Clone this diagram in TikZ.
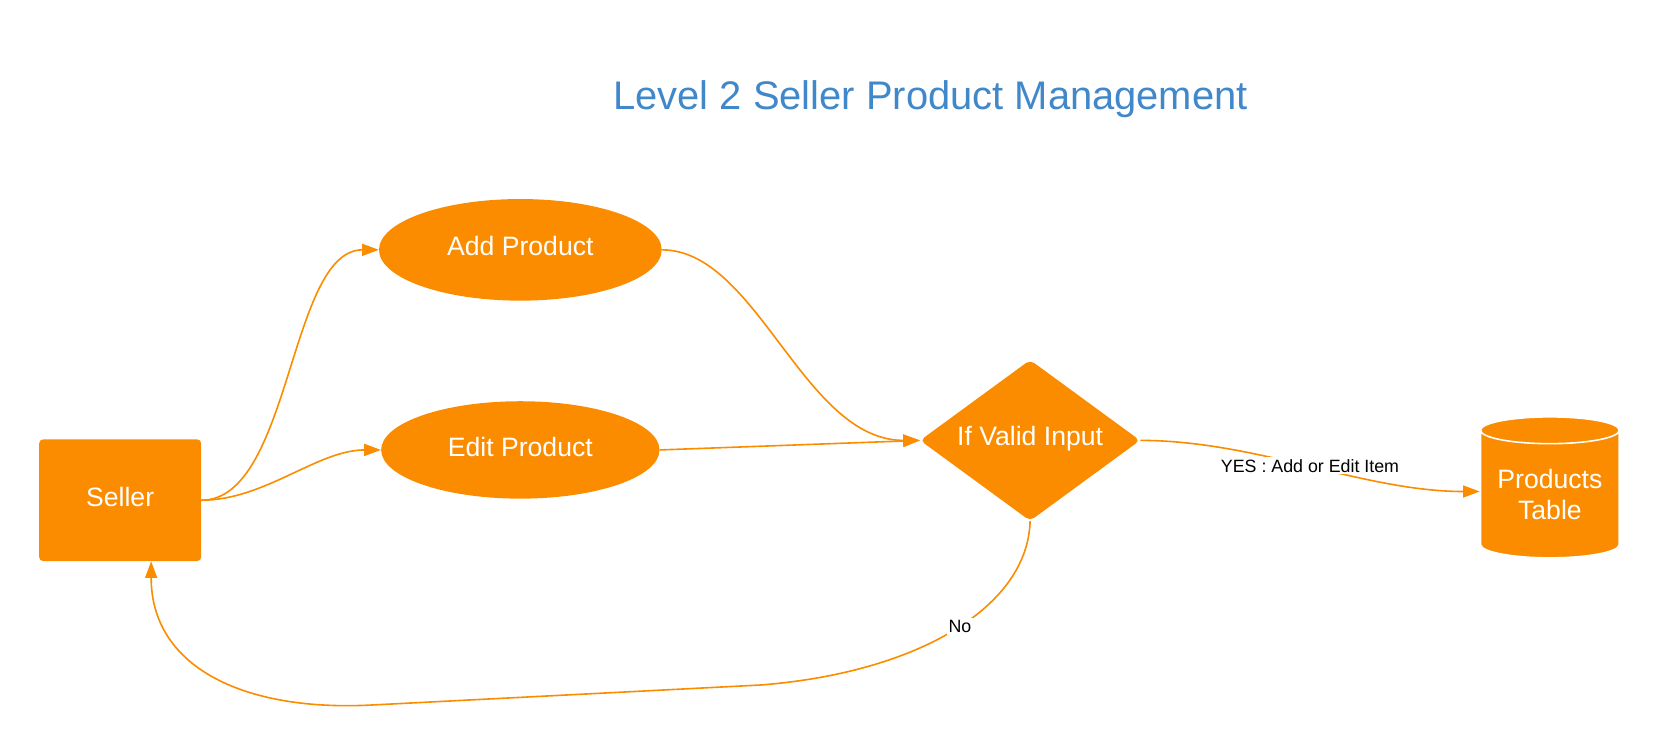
\documentclass[tikz,border=0pt]{standalone}
\usepackage{fontspec}
\setmainfont{Liberation Sans}
\usetikzlibrary{shapes.geometric, arrows.meta, positioning}
\definecolor{lucidorange}{RGB}{251,140,0}
\definecolor{titleblue}{RGB}{64,136,201}
\tikzstyle{actor} = [rectangle, rounded corners=4pt, minimum width=162pt, minimum height=121.7pt, text depth=7pt, text centered, fill=lucidorange, text=white, font=\fontsize{26.6}{31}\selectfont]
\tikzstyle{process} = [ellipse, minimum width=282.7pt, minimum height=101.6pt, text depth=7pt, text centered, fill=lucidorange, text=white, font=\fontsize{26.6}{31}\selectfont]
\tikzstyle{decision} = [diamond, aspect=1.37, minimum width=220pt, minimum height=161pt, inner sep=0pt, text depth=9pt, rounded corners=5pt, text centered, fill=lucidorange, text=white, font=\fontsize{26.6}{31}\selectfont]
\tikzstyle{datastore} = [cylinder, shape border rotate=90, aspect=0.24, minimum width=138.7pt, minimum height=141pt, text depth=4pt, align=center, draw=white, line width=1.6pt, fill=lucidorange, text=white, font=\fontsize{26.6}{31}\selectfont]
\tikzstyle{arrow} = [line width=1.6pt, draw=lucidorange, -{Triangle[length=16.7pt,width=12pt]}]
\tikzstyle{flowlabel} = [fill=white, inner sep=2pt, font=\fontsize{17.8}{21}\selectfont]

\begin{document}
\begin{tikzpicture}[x=1.0587pt, y=-1.0587pt]
\useasboundingbox (0,0) rectangle (1568,704.6);

% Title
\node (title) [text=titleblue, font=\fontsize{39.9}{47}\selectfont] at (879,94) {Level 2 Seller Product Management};

% Nodes
\node (seller) [actor] at (113.5,472.5) {Seller};
\node (add) [process] at (491.5,236) {Add Product};
\node (edit) [process, minimum width=278.4pt, minimum height=97.4pt] at (491.5,425) {Edit Product};
\node (valid) [decision] at (973,416) {If Valid Input};
\node (table) [datastore] at (1464,469) {Products\\Table};

% Arrows
\draw [arrow] (seller.east) .. controls +(85,0) and +(-85,0) .. (add.west);
\draw [arrow] (seller.east) .. controls +(60,0) and +(-60,0) .. (edit.west);
\draw [arrow] (add.east) .. controls +(90,0) and +(-110,0) .. (valid.west);
\draw [arrow] (edit.east) -- (valid.west);
\draw [arrow] (valid.east) .. controls +(110,0) and +(-110,0) .. node[flowlabel, pos=0.5] {YES : Add or Edit Item} ([yshift=5pt]table.west);
\draw [arrow] (valid.south) .. controls +(-2,80) and +(150,-12) .. node[flowlabel, pos=0.48] {No} (719,647)
  -- (350,666)
  .. controls +(-120,6) and +(0,100) .. ([xshift=31pt]seller.south);

\end{tikzpicture}
\end{document}
